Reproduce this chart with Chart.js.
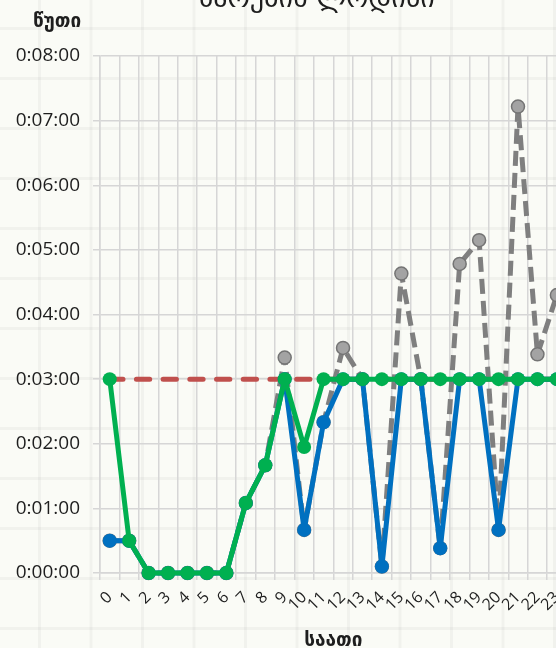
<!DOCTYPE html>
<html lang="ka">
<head>
<meta charset="utf-8">
<title>ზარების ლოდინი</title>
<script src="https://cdn.jsdelivr.net/npm/chart.js@4/dist/chart.umd.min.js"></script>
<style>
  html, body {
    margin: 0;
    padding: 0;
    width: 556px;
    height: 648px;
    overflow: hidden;
  }
  body {
    background-color: #fafbf6;
    background-image:
      linear-gradient(to right, rgba(0,0,0,0.035) 0, rgba(0,0,0,0.035) 3px, transparent 3px),
      linear-gradient(to bottom, rgba(0,0,0,0.035) 0, rgba(0,0,0,0.035) 3px, transparent 3px);
    background-size: 51.5px 50px;
    background-position: 38px 27px;
  }
  #wrap {
    position: absolute;
    left: 0;
    top: 0;
  }
</style>
</head>
<body>
<div id="wrap"><canvas id="chart" width="580" height="648"></canvas></div>
<script>
// hour of day
const hours = ['0','1','2','3','4','5','6','7','8','9','10','11',
               '12','13','14','15','16','17','18','19','20','21','22','23'];

// average waiting time per hour (h:mm:ss)
const averageWait = ['0:00:30','0:00:30','0:00:00','0:00:00','0:00:00','0:00:00',
                     '0:00:00','0:01:05','0:01:40','0:03:00','0:00:40','0:02:20',
                     '0:03:00','0:03:00','0:00:06','0:03:00','0:03:00','0:00:23',
                     '0:03:00','0:03:00','0:00:40','0:03:00','0:03:00','0:03:00'];

// longest waiting time per hour
const longestWait = ['0:00:30','0:00:30','0:00:00','0:00:00','0:00:00','0:00:00',
                     '0:00:00','0:01:05','0:01:40','0:03:20','0:00:40','0:02:20',
                     '0:03:29','0:03:00','0:00:06','0:04:38','0:03:00','0:00:23',
                     '0:04:47','0:05:09','0:00:40','0:07:13','0:03:23','0:04:18'];

// answered-within-limit waiting time per hour
const servedWait = ['0:03:00','0:00:30','0:00:00','0:00:00','0:00:00','0:00:00',
                    '0:00:00','0:01:05','0:01:40','0:03:00','0:01:57','0:03:00',
                    '0:03:00','0:03:00','0:03:00','0:03:00','0:03:00','0:03:00',
                    '0:03:00','0:03:00','0:03:00','0:03:00','0:03:00','0:03:00'];

// target limit
const targetWait = ['0:03:00','0:03:00','0:03:00','0:03:00','0:03:00','0:03:00',
                    '0:03:00','0:03:00','0:03:00','0:03:00','0:03:00','0:03:00',
                    '0:03:00','0:03:00','0:03:00','0:03:00','0:03:00','0:03:00',
                    '0:03:00','0:03:00','0:03:00','0:03:00','0:03:00','0:03:00'];

// y ticks: 0:00:00 .. 0:08:00
const yTicks = ['0:00:00','0:01:00','0:02:00','0:03:00','0:04:00',
                '0:05:00','0:06:00','0:07:00','0:08:00'];

const chartTitle = 'ზარების ლოდინი';
const yTitle = 'წუთი';
const xTitle = 'საათი';

function toSeconds(s) {
  const p = s.split(':').map(Number);
  return p[0] * 3600 + p[1] * 60 + p[2];
}
function toClock(sec) {
  const h = Math.floor(sec / 3600);
  const m = Math.floor((sec % 3600) / 60);
  const s = Math.round(sec % 60);
  return h + ':' + String(m).padStart(2, '0') + ':' + String(s).padStart(2, '0');
}

const GRID = '#d6d6d6';
const TEXT = '#1e1e1e';
const GEO = '"DejaVu Sans", sans-serif';
const LATIN = '"Open Sans", "DejaVu Sans", sans-serif';

const textPlugin = {
  id: 'chartTexts',
  afterDraw(chart) {
    const ctx = chart.ctx;
    const area = chart.chartArea;
    ctx.save();
    ctx.fillStyle = TEXT;
    ctx.textAlign = 'center';
    ctx.textBaseline = 'alphabetic';
    ctx.font = '28px ' + GEO;
    ctx.fillText(chartTitle, 317, 7);
    ctx.font = 'bold 19px ' + GEO;
    ctx.fillText(yTitle, 57, 27);
    ctx.fillText(xTitle, (area.left + area.right) / 2, 646);
    ctx.restore();
  }
};

const lineBase = {
  fill: false,
  tension: 0,
  clip: false,
  spanGaps: true,
  borderJoinStyle: 'round'
};

new Chart(document.getElementById('chart'), {
  type: 'line',
  data: {
    labels: hours,
    datasets: [
      Object.assign({}, lineBase, {
        label: 'served',
        data: servedWait.map(toSeconds),
        borderColor: '#00b050',
        backgroundColor: '#00b050',
        borderWidth: 5,
        pointRadius: 7,
        pointBorderWidth: 0,
        pointBackgroundColor: '#00b050'
      }),
      Object.assign({}, lineBase, {
        label: 'average',
        data: averageWait.map(toSeconds),
        borderColor: '#0070c0',
        backgroundColor: '#0070c0',
        borderWidth: 5,
        pointRadius: 7,
        pointBorderWidth: 0,
        pointBackgroundColor: '#0070c0'
      }),
      Object.assign({}, lineBase, {
        label: 'longest',
        data: longestWait.map(toSeconds),
        borderColor: '#7f7f7f',
        borderWidth: 5,
        borderDash: [15, 7],
        borderCapStyle: 'butt',
        pointRadius: 6.5,
        pointBorderWidth: 1.5,
        pointBorderColor: '#747474',
        pointBackgroundColor: '#a3a3a3'
      }),
      Object.assign({}, lineBase, {
        label: 'target',
        data: targetWait.map(toSeconds),
        borderColor: '#c0504d',
        borderWidth: 5,
        borderDash: [13.3, 13.4],
        borderCapStyle: 'round',
        pointRadius: 0
      })
    ]
  },
  options: {
    responsive: false,
    devicePixelRatio: 1,
    animation: false,
    events: [],
    layout: { padding: { left: 0, top: 56, right: 13.4, bottom: 0 } },
    plugins: {
      legend: { display: false },
      title: { display: false },
      tooltip: { enabled: false }
    },
    scales: {
      x: {
        type: 'category',
        offset: true,
        grid: {
          offset: true,
          color: GRID,
          lineWidth: 1.5,
          tickLength: 7,
          drawTicks: true
        },
        border: { color: GRID, width: 1.5 },
        ticks: {
          autoSkip: false,
          minRotation: 45,
          maxRotation: 45,
          padding: 8,
          color: TEXT,
          font: { family: LATIN, size: 16 }
        },
        afterFit(scale) { scale.height = 75; }
      },
      y: {
        min: toSeconds(yTicks[0]),
        max: toSeconds(yTicks[yTicks.length - 1]),
        afterBuildTicks(scale) {
          scale.ticks = yTicks.map(t => ({ value: toSeconds(t) }));
        },
        grid: {
          color: GRID,
          lineWidth: 1.5,
          tickLength: 7,
          drawTicks: true
        },
        border: { color: GRID, width: 1.5 },
        ticks: {
          padding: 13,
          color: TEXT,
          font: { family: LATIN, size: 19 },
          callback: v => toClock(v)
        },
        afterFit(scale) { scale.width = 100; }
      }
    }
  },
  plugins: [textPlugin]
});
</script>
</body>
</html>
